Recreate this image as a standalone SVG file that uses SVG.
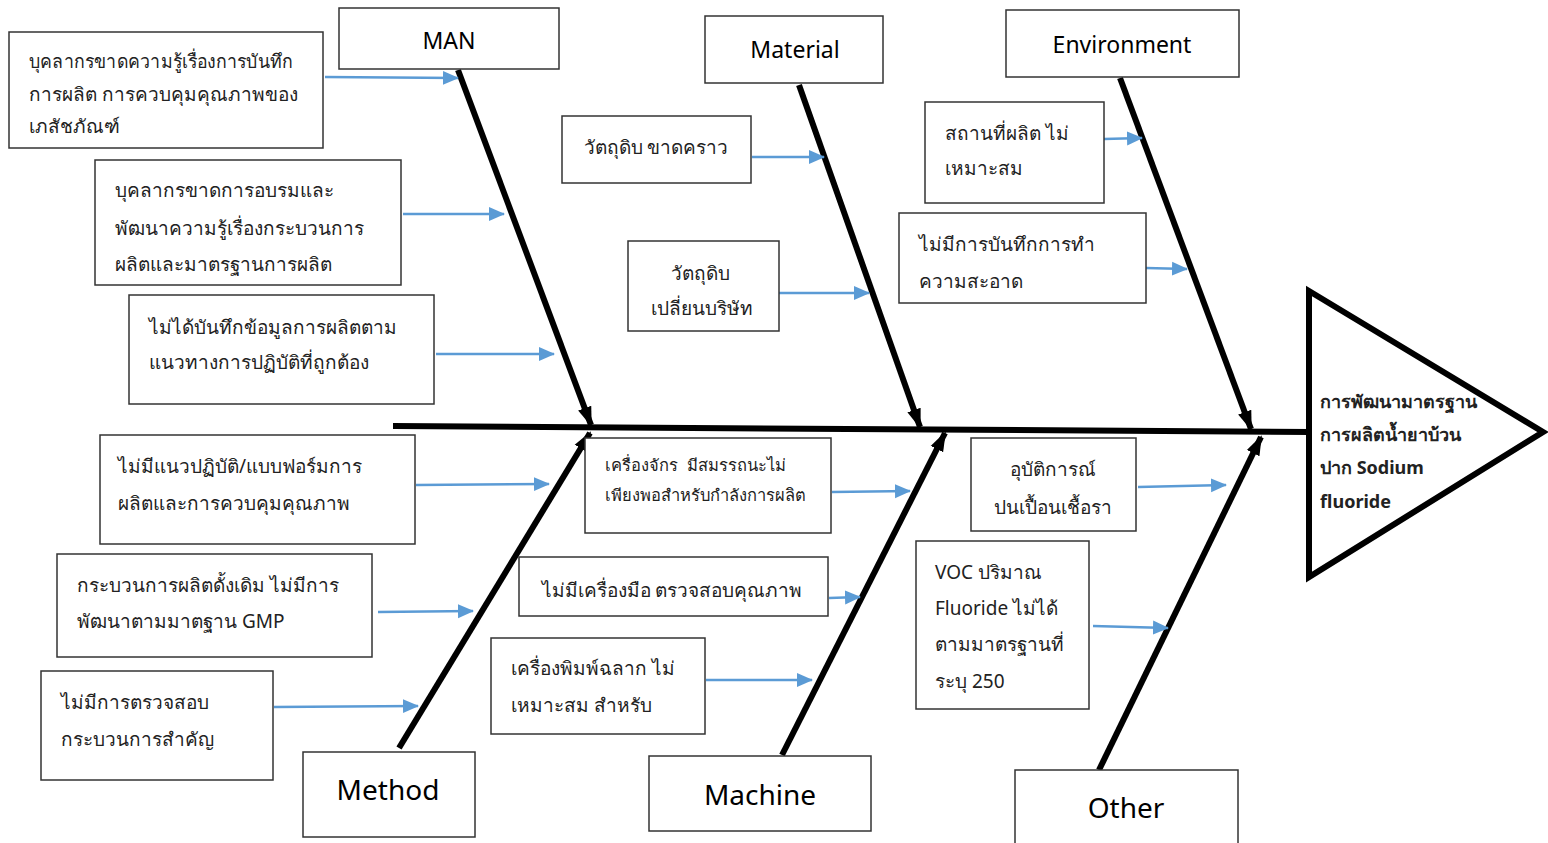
<svg xmlns="http://www.w3.org/2000/svg" width="1548" height="843" viewBox="0 0 1548 843">
<style>
.bx{fill:#fff;stroke:#333;stroke-width:1.5}
.t{font-family:"Noto Sans","DejaVu Sans",sans-serif;font-size:19px;fill:#222}
.ts{font-family:"Noto Sans","DejaVu Sans",sans-serif;font-size:16.5px;fill:#222}
.h{font-family:"Noto Sans","DejaVu Sans",sans-serif;font-size:23px;fill:#000;text-anchor:middle}
.hb{font-family:"Noto Sans","DejaVu Sans",sans-serif;font-size:28px;fill:#000;text-anchor:middle}
.c{text-anchor:middle}
.bone{stroke:#000;stroke-width:6;fill:none;marker-end:url(#ba)}
.bl{stroke:#5b9bd5;stroke-width:2.5;fill:none;marker-end:url(#la)}
.hd{font-family:"Noto Sans","DejaVu Sans",sans-serif;font-size:18px;font-weight:bold;fill:#222}
</style>
<defs>
<marker id="ba" markerUnits="userSpaceOnUse" markerWidth="20" markerHeight="20" viewBox="0 0 20 20" refX="18" refY="10" orient="auto"><path d="M0,3 L20,10 L0,17 Z" fill="#000"/></marker>
<marker id="la" markerUnits="userSpaceOnUse" markerWidth="16" markerHeight="16" viewBox="0 0 16 16" refX="15" refY="8" orient="auto"><path d="M0,1 L16,8 L0,15 Z" fill="#5b9bd5"/></marker>
</defs>
<rect width="1548" height="843" fill="#fff"/>
<g id="connectors">
<line x1="393" y1="426" x2="1310" y2="432" stroke="#000" stroke-width="6"/>
<line class="bone" x1="458" y1="70" x2="591" y2="425"/>
<line class="bone" x1="799" y1="85" x2="920" y2="427"/>
<line class="bone" x1="1120" y1="78" x2="1251" y2="429"/>
<line class="bone" x1="399" y1="748" x2="590" y2="433"/>
<line class="bone" x1="782" y1="755" x2="945" y2="433"/>
<line class="bone" x1="1099" y1="770" x2="1261" y2="437"/>
<line class="bl" x1="325" y1="77" x2="458" y2="78"/>
<line class="bl" x1="403" y1="214" x2="504" y2="214"/>
<line class="bl" x1="436" y1="354" x2="554" y2="354"/>
<line class="bl" x1="752" y1="157" x2="824" y2="157"/>
<line class="bl" x1="777" y1="293" x2="869" y2="293"/>
<line class="bl" x1="1104" y1="139" x2="1142" y2="138"/>
<line class="bl" x1="1146" y1="268" x2="1187" y2="269"/>
<line class="bl" x1="416" y1="485" x2="549" y2="484"/>
<line class="bl" x1="378" y1="612" x2="473" y2="611"/>
<line class="bl" x1="274" y1="707" x2="418" y2="706"/>
<line class="bl" x1="832" y1="492" x2="910" y2="491"/>
<line class="bl" x1="829" y1="598" x2="860" y2="597"/>
<line class="bl" x1="706" y1="680" x2="812" y2="680"/>
<line class="bl" x1="1138" y1="487" x2="1226" y2="485"/>
<line class="bl" x1="1093" y1="626" x2="1168" y2="628"/>
</g>
<g id="head">
<path d="M1309,291 L1309,577 L1543,432 Z" fill="#fff" stroke="#000" stroke-width="6" stroke-linejoin="miter"/>
<text class="hd" x="1320" y="408">การพัฒนามาตรฐาน</text>
<text class="hd" x="1320" y="441">การผลิตน้ำยาบ้วน</text>
<text class="hd" x="1320" y="474">ปาก Sodium</text>
<text class="hd" x="1320" y="508">fluoride</text>
</g>
<g id="man"><rect class="bx" x="339" y="8" width="220" height="61"/><text class="h" x="449" y="49">MAN</text></g>
<g id="material"><rect class="bx" x="705" y="16" width="178" height="67"/><text class="h" x="795" y="58">Material</text></g>
<g id="environment"><rect class="bx" x="1006" y="10" width="233" height="67"/><text class="h" x="1122" y="53">Environment</text></g>
<g id="method"><rect class="bx" x="303" y="752" width="172" height="85"/><text class="hb" x="388" y="800">Method</text></g>
<g id="machine"><rect class="bx" x="649" y="756" width="222" height="75"/><text class="hb" x="760" y="805">Machine</text></g>
<g id="other"><rect class="bx" x="1015" y="770" width="223" height="80"/><text class="hb" x="1126" y="818">Other</text></g>
<g id="m1"><rect class="bx" x="9" y="32" width="314" height="116"/>
<text class="t" x="29" y="68" textLength="264" lengthAdjust="spacingAndGlyphs">บุคลากรขาดความรู้เรื่องการบันทึก</text>
<text class="t" x="29" y="101">การผลิต การควบคุมคุณภาพของ</text>
<text class="t" x="29" y="133">เภสัชภัณฑ์</text></g>
<g id="m2"><rect class="bx" x="95" y="160" width="306" height="125"/>
<text class="t" x="115" y="197">บุคลากรขาดการอบรมและ</text>
<text class="t" x="115" y="235">พัฒนาความรู้เรื่องกระบวนการ</text>
<text class="t" x="115" y="271">ผลิตและมาตรฐานการผลิต</text></g>
<g id="m3"><rect class="bx" x="129" y="295" width="305" height="109"/>
<text class="t" x="149" y="334">ไม่ได้บันทึกข้อมูลการผลิตตาม</text>
<text class="t" x="149" y="369">แนวทางการปฏิบัติที่ถูกต้อง</text></g>
<g id="mat1"><rect class="bx" x="562" y="116" width="189" height="67"/>
<text class="t c" x="656" y="154">วัตถุดิบ ขาดคราว</text></g>
<g id="mat2"><rect class="bx" x="628" y="241" width="151" height="90"/>
<text class="t c" x="700" y="280">วัตถุดิบ</text>
<text class="t c" x="702" y="315">เปลี่ยนบริษัท</text></g>
<g id="e1"><rect class="bx" x="925" y="102" width="179" height="101"/>
<text class="t" x="945" y="140">สถานที่ผลิต ไม่</text>
<text class="t" x="945" y="175">เหมาะสม</text></g>
<g id="e2"><rect class="bx" x="899" y="213" width="247" height="90"/>
<text class="t" x="919" y="251">ไม่มีการบันทึกการทำ</text>
<text class="t" x="919" y="288">ความสะอาด</text></g>
<g id="me1"><rect class="bx" x="100" y="435" width="315" height="109"/>
<text class="t" x="118" y="473">ไม่มีแนวปฏิบัติ/แบบฟอร์มการ</text>
<text class="t" x="118" y="510">ผลิตและการควบคุมคุณภาพ</text></g>
<g id="me2"><rect class="bx" x="57" y="554" width="315" height="103"/>
<text class="t" x="77" y="592">กระบวนการผลิตดั้งเดิม ไม่มีการ</text>
<text class="t" x="77" y="628">พัฒนาตามมาตฐาน GMP</text></g>
<g id="me3"><rect class="bx" x="41" y="671" width="232" height="109"/>
<text class="t" x="61" y="709">ไม่มีการตรวจสอบ</text>
<text class="t" x="61" y="746">กระบวนการสำคัญ</text></g>
<g id="mc1"><rect class="bx" x="585" y="438" width="246" height="95"/>
<text class="ts" x="605" y="471" xml:space="preserve">เครื่องจักร  มีสมรรถนะไม่</text>
<text class="ts" x="605" y="501">เพียงพอสำหรับกำลังการผลิต</text></g>
<g id="mc2"><rect class="bx" x="519" y="557" width="309" height="59"/>
<text class="t c" x="672" y="597">ไม่มีเครื่องมือ ตรวจสอบคุณภาพ</text></g>
<g id="mc3"><rect class="bx" x="491" y="638" width="214" height="96"/>
<text class="t" x="511" y="675">เครื่องพิมพ์ฉลาก ไม่</text>
<text class="t" x="511" y="712">เหมาะสม สำหรับ</text></g>
<g id="o1"><rect class="bx" x="971" y="438" width="165" height="93"/>
<text class="t c" x="1053" y="476">อุบัติการณ์</text>
<text class="t c" x="1053" y="514">ปนเปื้อนเชื้อรา</text></g>
<g id="o2"><rect class="bx" x="916" y="541" width="173" height="168"/>
<text class="t" x="935" y="579">VOC ปริมาณ</text>
<text class="t" x="935" y="615">Fluoride ไม่ได้</text>
<text class="t" x="935" y="651">ตามมาตรฐานที่</text>
<text class="t" x="935" y="688">ระบุ 250</text></g>
</svg>
